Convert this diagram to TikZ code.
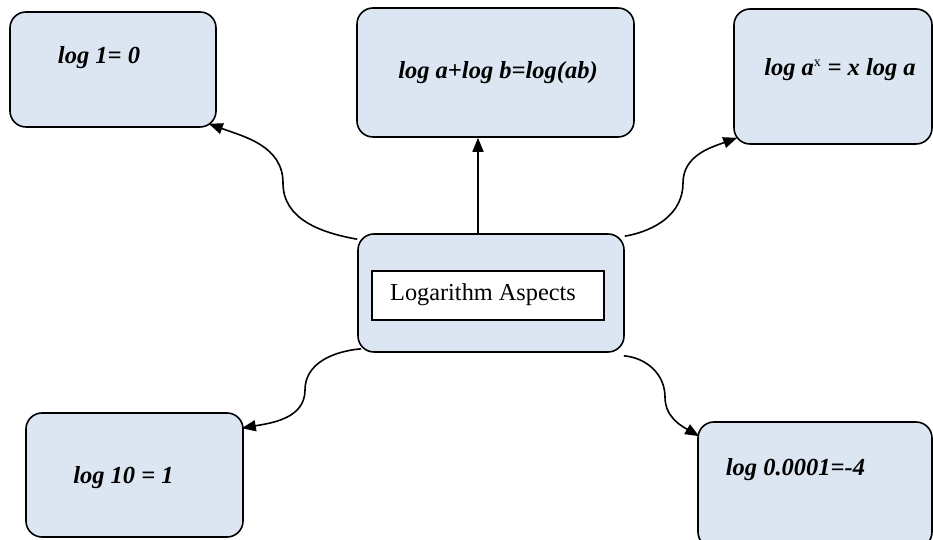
\documentclass[tikz,border=0pt]{standalone}
\usepackage{fontspec}
\setmainfont{Liberation Serif}
\usetikzlibrary{arrows.meta}
\definecolor{boxfill}{RGB}{220,230,242}
\tikzset{
  box/.style={draw=black, fill=boxfill, line width=1.6pt, rounded corners=16pt, inner sep=0pt},
  formula/.style={font=\fontsize{24.5}{28}\selectfont\bfseries\itshape, inner sep=0pt},
  plain/.style={font=\fontsize{24.3}{28}\selectfont, inner sep=0pt},
  conn/.style={line width=1.6pt, -{Triangle[length=14pt,width=11pt]}}
}
\begin{document}
\begin{tikzpicture}[x=1pt,y=1pt]
\useasboundingbox (0,0) rectangle (933,540);
\begin{scope}
\clip (0,0) rectangle (933,540);
% boxes
\node[box, minimum width=206pt, minimum height=115pt] (b1) at (113,470.5) {};
\node[box, minimum width=277pt, minimum height=129pt] (b2) at (495.5,467.5) {};
\node[box, minimum width=198pt, minimum height=135pt] (b3) at (833,463.5) {};
\node[box, minimum width=266pt, minimum height=118pt] (c) at (491,247) {};
\node[draw=black, fill=white, line width=1.4pt, minimum width=232pt, minimum height=49pt, inner sep=0pt] (ci) at (488,244.5) {};
\node[box, minimum width=217pt, minimum height=124pt] (b5) at (134.5,65) {};
\node[box, minimum width=234pt, minimum height=126pt] (b6) at (815,55) {};
\end{scope}
% texts
\node[formula] (t1) at (99,482) {log 1= 0};
\node[formula] (t2) at (498,467) {log a+log b=log(ab)};
\node[formula] (t3) at (840,470) {log a\textsuperscript{\normalfont\fontsize{14}{14}\selectfont x} = x log a};
\node[plain] (tc) at (483,245) {Logarithm Aspects};
\node[formula] (t5) at (123.5,62) {log 10 = 1};
\node[formula] (t6) at (795.5,70) {log 0.0001=-4};
% connectors
\draw[conn] ([yshift=-6pt]c.north west) to[out=170,in=-90] (283,357) to[out=90,in=-20] ([xshift=-8pt,yshift=4pt]b1.south east);
\draw[conn] ([xshift=-13pt]c.north) -- ([xshift=-17.5pt]b2.south);
\draw[conn] ([yshift=-3pt]c.north east) to[out=10,in=-90] (683,357) to[out=90,in=200] ([xshift=4pt,yshift=7pt]b3.south west);
\draw[conn] ([xshift=4pt,yshift=4pt]c.south west) to[out=185,in=90] (305,150) to[out=-90,in=10] ([xshift=-2pt,yshift=-16pt]b5.north east);
\draw[conn] ([xshift=-1pt,yshift=-3pt]c.south east) to[out=-5,in=90] (665,143) to[out=-90,in=150] ([xshift=2pt,yshift=-15pt]b6.north west);
\end{tikzpicture}
\end{document}
